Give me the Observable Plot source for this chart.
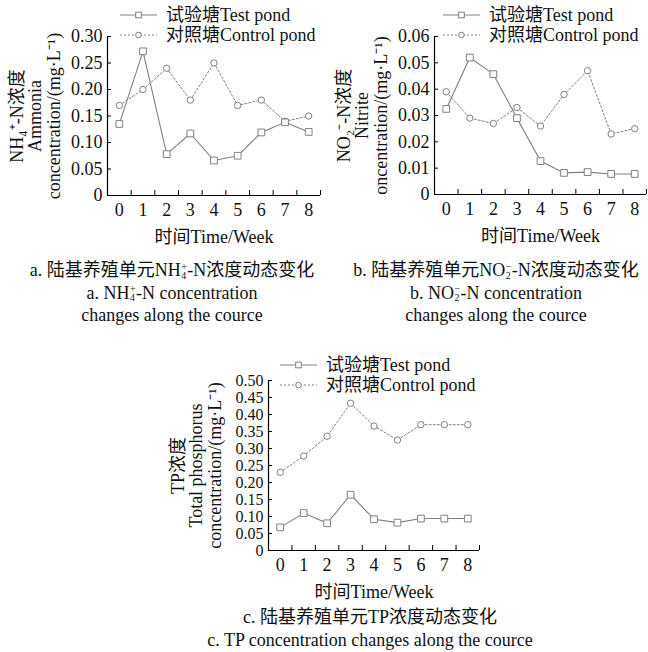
<!DOCTYPE html>
<html>
<head>
<meta charset="utf-8">
<script src="https://cdn.jsdelivr.net/npm/d3@7"></script>
<script src="https://cdn.jsdelivr.net/npm/@observablehq/plot@0.6"></script>
<style>
  html, body { margin: 0; padding: 0; background: #fff; }
  #root { position: relative; width: 648px; height: 652px; overflow: hidden;
          font-family: "Liberation Serif", "Noto Sans CJK SC", serif; color: #111; }
  .chart { position: absolute; }
  .cap { position: absolute; text-align: center; font-size: 18px; line-height: 22.5px; white-space: nowrap; }
  .st { display: inline-block; vertical-align: -0.3em; font-size: 0.55em; line-height: 0.95; text-align: left; margin: 0 0.05em; }
  .st span { display: block; }
</style>
</head>
<body>
<div id="root"></div>
<script>
// ---- data ----
const weeks = [0, 1, 2, 3, 4, 5, 6, 7, 8];
const minorTicks = [0.5, 1.5, 2.5, 3.5, 4.5, 5.5, 6.5, 7.5, 8.5];
const seriesNames = ["试验塘Test pond", "对照塘Control pond"];

const nh4Test    = [0.135, 0.272, 0.078, 0.117, 0.066, 0.075, 0.119, 0.138, 0.120];
const nh4Control = [0.170, 0.200, 0.240, 0.180, 0.250, 0.170, 0.180, 0.140, 0.150];
const nh4Ticks   = [0, 0.05, 0.10, 0.15, 0.20, 0.25, 0.30];

const no2Test    = [0.0325, 0.0520, 0.0457, 0.0290, 0.0127, 0.0082, 0.0085, 0.0078, 0.0078];
const no2Control = [0.0390, 0.0290, 0.0270, 0.0330, 0.0260, 0.0380, 0.0470, 0.0230, 0.0250];
const no2Ticks   = [0, 0.01, 0.02, 0.03, 0.04, 0.05, 0.06];

const tpTest     = [0.068, 0.110, 0.080, 0.164, 0.092, 0.082, 0.094, 0.094, 0.094];
const tpControl  = [0.230, 0.278, 0.336, 0.433, 0.366, 0.325, 0.370, 0.370, 0.370];
const tpTicks    = [0, 0.05, 0.10, 0.15, 0.20, 0.25, 0.30, 0.35, 0.40, 0.45, 0.50];

const xLabel = "时间Time/Week";
const yLabelA = "NH₄⁺-N浓度\nAmmonia\nconcentration/(mg·L⁻¹)";
const yLabelB = "NO₂⁻-N浓度\nNitrite\noncentration/(mg·L⁻¹)";
const yLabelC = "TP浓度\nTotal phosphorus\nconcentration/(mg·L⁻¹)";

// ---- styling ----
const FONT = '"Liberation Serif", "Noto Sans CJK SC", serif';
const GRAY = "#808080";

function fmtTick(d) { return d === 0 ? "0" : d.toFixed(2); }

function makeChart(cfg) {
  const test = weeks.map((w, i) => ({week: w, value: cfg.test[i]}));
  const ctrl = weeks.map((w, i) => ({week: w, value: cfg.control[i]}));
  const yMax = cfg.ticks[cfg.ticks.length - 1];
  const plotW = cfg.width - cfg.ml - cfg.mr;
  const plotH = cfg.height - cfg.mt - cfg.mb;
  const svg = Plot.plot({
    width: cfg.width, height: cfg.height,
    marginLeft: cfg.ml, marginRight: cfg.mr, marginTop: cfg.mt, marginBottom: cfg.mb,
    x: {domain: [-0.5, 8.5]},
    y: {domain: [0, yMax]},
    style: {fontFamily: FONT, fontSize: "18px", color: "#111", background: "transparent", overflow: "visible"},
    marks: [
      Plot.axisX(weeks, {tickSize: 0, tickPadding: 8, tickFormat: d => String(d), label: null, fontSize: 18}),
      Plot.axisY(cfg.ticks, {tickSize: 0, tickPadding: 5, tickFormat: fmtTick, label: null, fontSize: cfg.yFont}),
      Plot.ruleY([0], {stroke: "#000", strokeWidth: 1.2}),
      Plot.ruleX([-0.5], {y1: 0, y2: yMax, stroke: "#000", strokeWidth: 1.2}),
      Plot.tickY(cfg.ticks, {y: d => d, insetRight: plotW - 4, stroke: "#000"}),
      Plot.tickX(minorTicks, {x: d => d, insetTop: plotH - 5, stroke: "#000"}),
      Plot.line(ctrl, {x: "week", y: "value", stroke: GRAY, strokeWidth: 1, strokeDasharray: "2,2"}),
      Plot.line(test, {x: "week", y: "value", stroke: GRAY, strokeWidth: 1.1}),
      Plot.dot(ctrl, {x: "week", y: "value", symbol: "circle", r: 3.2, fill: "white", stroke: GRAY, strokeWidth: 1}),
      Plot.dot(test, {x: "week", y: "value", symbol: "square", r: 3.8, fill: "white", stroke: GRAY, strokeWidth: 1}),
      Plot.text([cfg.yLabel], {frameAnchor: "left", dx: -72, rotate: -90, textAnchor: "middle", lineAnchor: "middle",
                               lineHeight: 1.03, text: d => d, fontSize: 18, fill: "#111"}),
      Plot.text([xLabel], {frameAnchor: "bottom", dy: 42, textAnchor: "middle", lineAnchor: "middle",
                           text: d => d, fontSize: 18, fill: "#111"})
    ]
  });
  // legend
  const g = d3.select(svg).append("g").attr("font-family", FONT).attr("font-size", 18)
    .attr("fill", "#111").attr("text-anchor", "start");
  seriesNames.forEach((name, i) => {
    const y = cfg.legY + i * 20;
    g.append("line").attr("x1", cfg.legX).attr("x2", cfg.legX + 37).attr("y1", y).attr("y2", y)
      .attr("stroke", GRAY).attr("stroke-width", 1).attr("stroke-dasharray", i === 1 ? "2,2" : null);
    const cx = cfg.legX + 18.5;
    if (i === 0) {
      g.append("rect").attr("x", cx - 2.8).attr("y", y - 2.8).attr("width", 5.6).attr("height", 5.6)
        .attr("fill", "white").attr("stroke", GRAY);
    } else {
      g.append("circle").attr("cx", cx).attr("cy", y).attr("r", 2.8).attr("fill", "white").attr("stroke", GRAY);
    }
    g.append("text").attr("x", cfg.legX + 46).attr("y", y).attr("dy", "0.35em").text(name);
  });
  const div = document.createElement("div");
  div.className = "chart";
  div.style.left = cfg.left + "px";
  div.style.top = cfg.top + "px";
  div.appendChild(svg);
  return div;
}

const root = document.getElementById("root");
root.appendChild(makeChart({left: 0, top: 0, width: 330, height: 250, ml: 107, mr: 10, mt: 36, mb: 55, yFont: 18,
  test: nh4Test, control: nh4Control, ticks: nh4Ticks, yLabel: yLabelA, legX: 120, legY: 15}));
root.appendChild(makeChart({left: 324, top: 0, width: 324, height: 250, ml: 110, mr: 2, mt: 36, mb: 56, yFont: 18,
  test: no2Test, control: no2Control, ticks: no2Ticks, yLabel: yLabelB, legX: 119, legY: 15}));
root.appendChild(makeChart({left: 160, top: 330, width: 330, height: 270, ml: 108, mr: 11, mt: 50, mb: 50, yFont: 16,
  test: tpTest, control: tpControl, ticks: tpTicks, yLabel: yLabelC, legX: 120, legY: 35}));

// captions
function addCap(left, top, width, html) {
  const d = document.createElement("div");
  d.className = "cap";
  d.style.left = left + "px"; d.style.top = top + "px"; d.style.width = width + "px";
  d.innerHTML = html;
  root.appendChild(d);
}
addCap(22, 259, 300, 'a. 陆基养殖单元NH<span class="st"><span>+</span><span>4</span></span>-N浓度动态变化<br>a. NH<span class="st"><span>+</span><span>4</span></span>-N concentration<br>changes along the cource');
addCap(346, 259, 300, 'b. 陆基养殖单元NO<span class="st"><span>−</span><span>2</span></span>-N浓度动态变化<br>b. NO<span class="st"><span>−</span><span>2</span></span>-N concentration<br>changes along the cource');
addCap(170, 606, 400, 'c. 陆基养殖单元TP浓度动态变化<br>c. TP concentration changes along the cource');
</script>
</body>
</html>
